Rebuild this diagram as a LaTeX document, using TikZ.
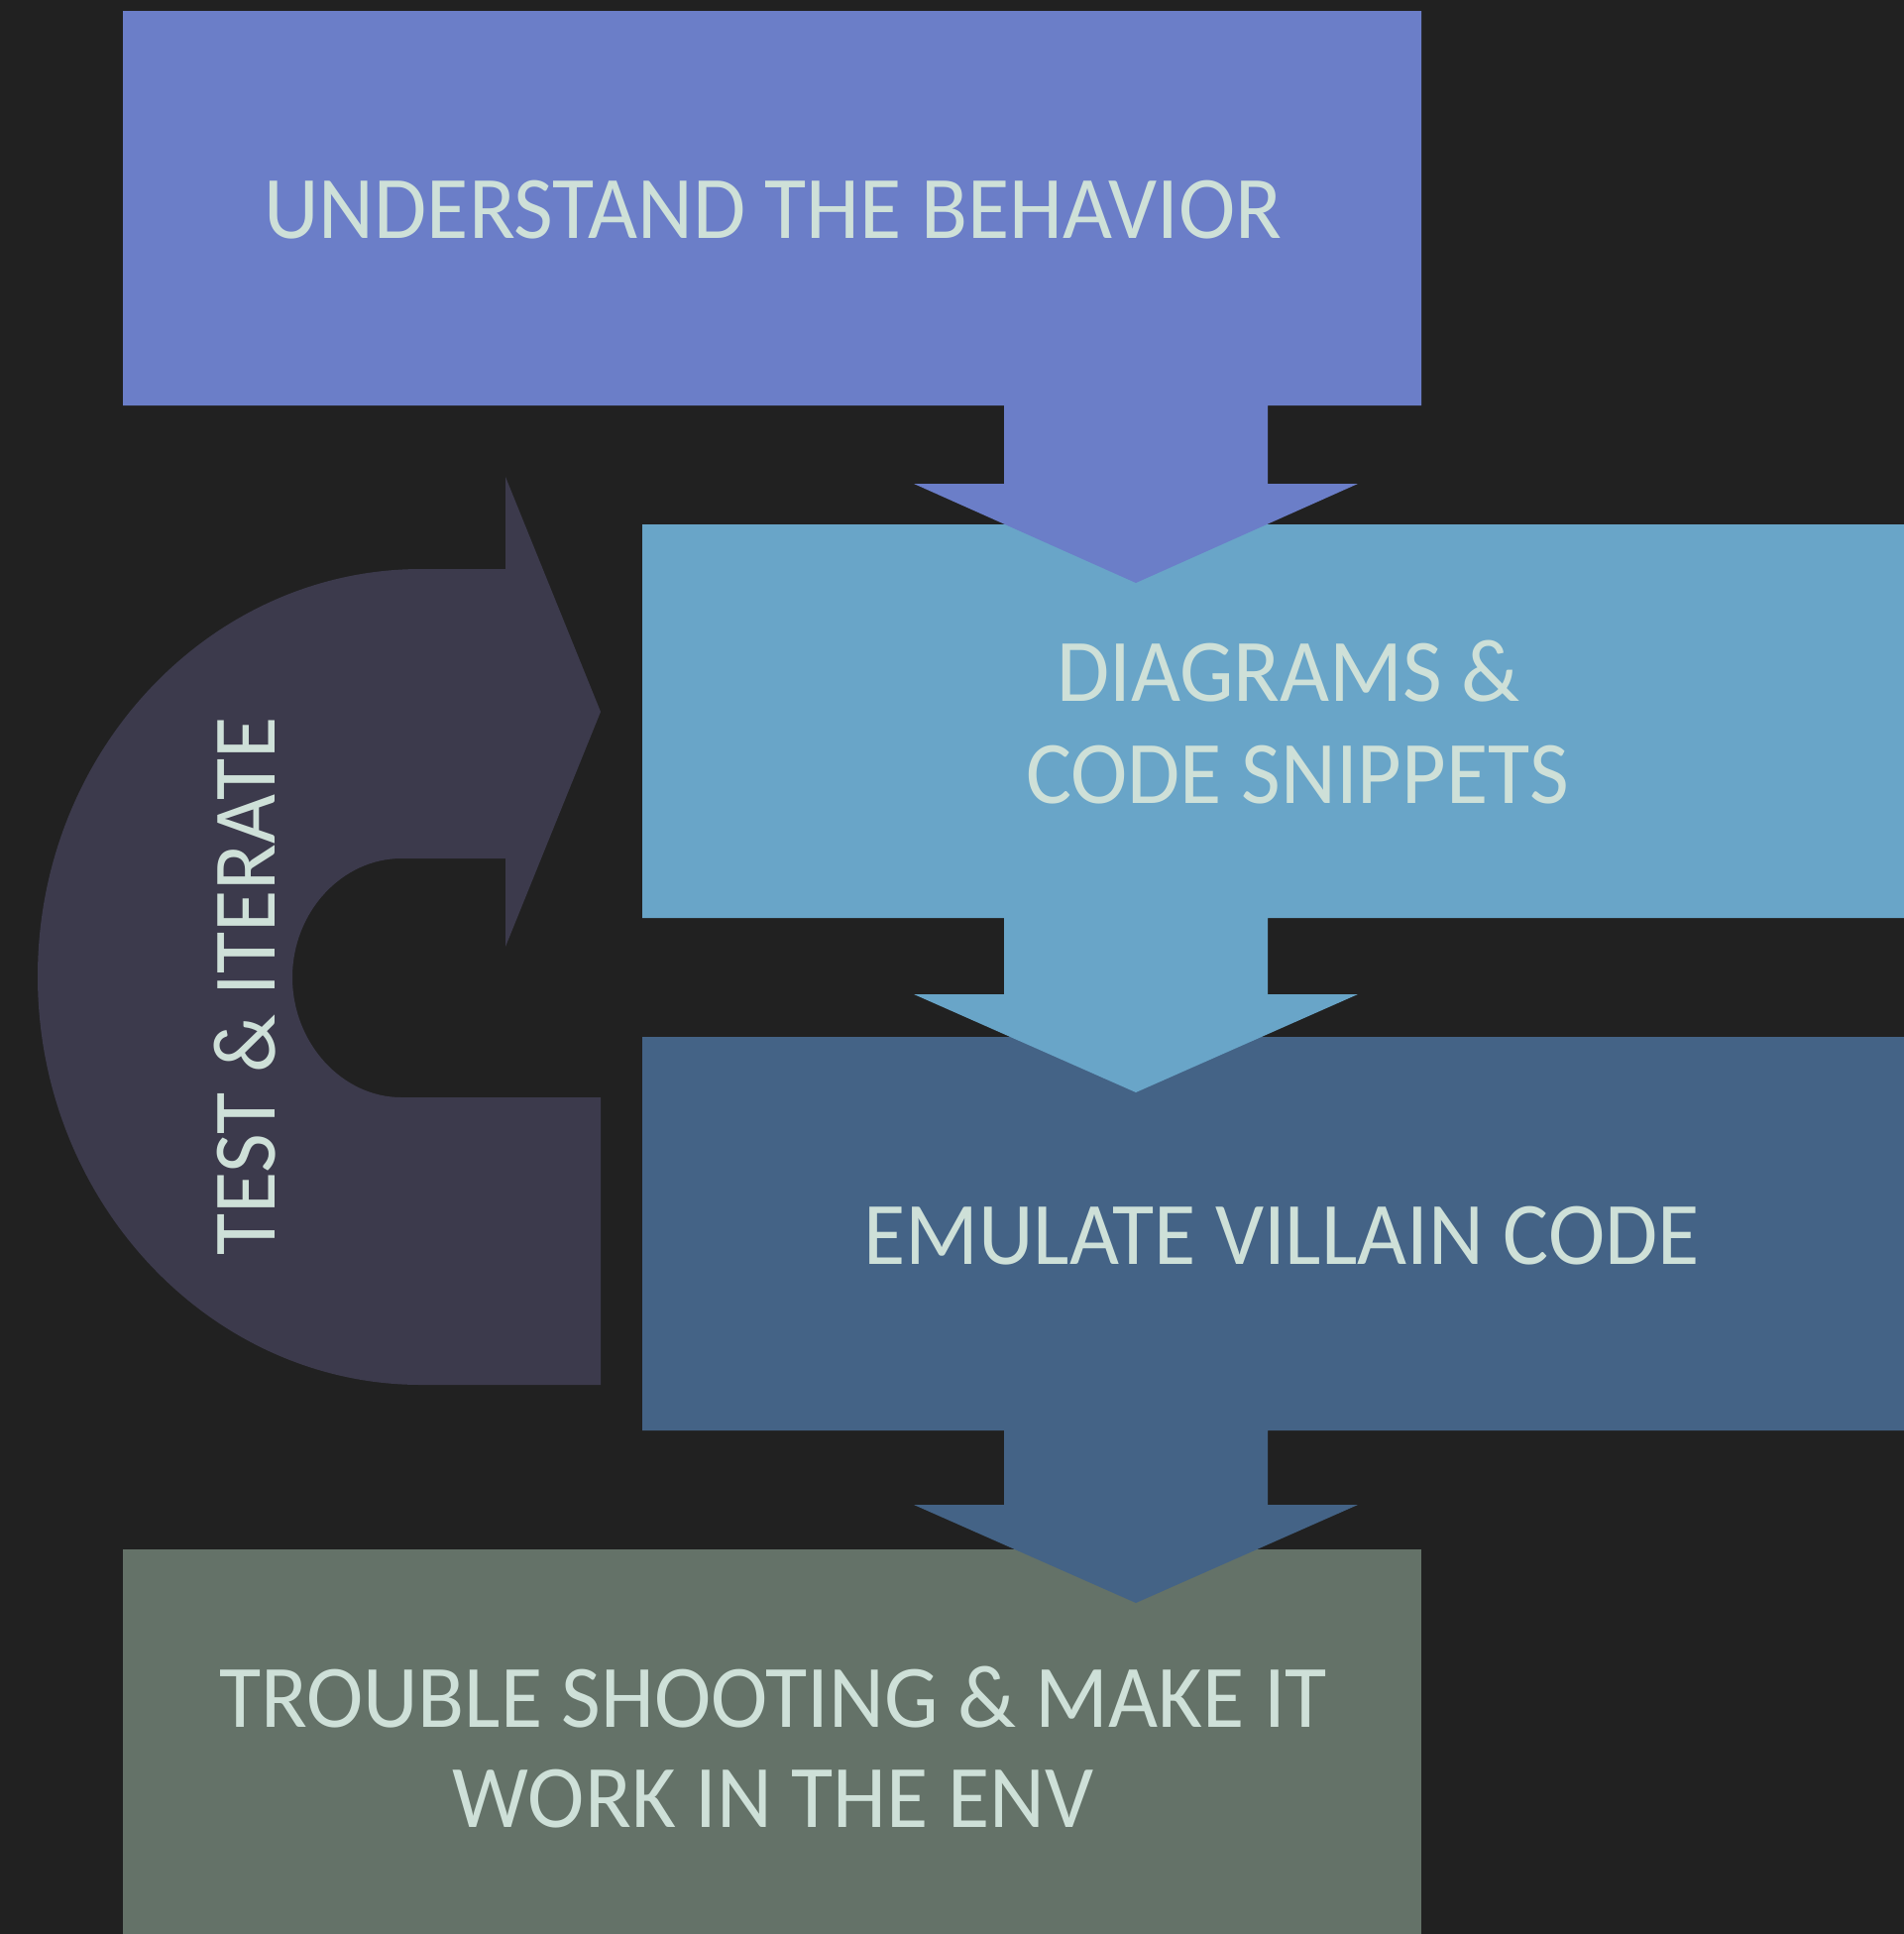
\documentclass[tikz,border=0pt]{standalone}
\usepackage{fontspec}
\setmainfont{Carlito}[FakeStretch=0.96]
\definecolor{bgdark}{RGB}{33,33,33}
\definecolor{stepone}{RGB}{107,126,200}
\definecolor{steptwo}{RGB}{105,165,200}
\definecolor{stepthree}{RGB}{68,99,134}
\definecolor{stepfour}{RGB}{100,114,104}
\definecolor{loopcol}{RGB}{60,58,76}
\definecolor{labelcol}{RGB}{206,224,216}
\begin{document}
\begin{tikzpicture}[x=0.5pt,y=-0.5pt,
  steplabel/.style={text=labelcol, font=\fontsize{45}{51.5}\selectfont, inner sep=0pt, anchor=base}]
% canvas
\useasboundingbox (0,0) rectangle (1921,1951);
\fill[bgdark] (0,0) rectangle (1921,1951);

% step 4 (bottom box)
\fill[stepfour] (124,1563) rectangle (1434,1951);

% step 3 with its down arrow
\fill[stepthree] (648,1046) -- (1921,1046) -- (1921,1443) -- (1279,1443) -- (1279,1518)
  -- (1370,1518) -- (1146,1617) -- (922,1518) -- (1013,1518) -- (1013,1443) -- (648,1443) -- cycle;

% step 2 with its down arrow
\fill[steptwo] (648,529) -- (1921,529) -- (1921,926) -- (1279,926) -- (1279,1003)
  -- (1370,1003) -- (1146,1102) -- (922,1003) -- (1013,1003) -- (1013,926) -- (648,926) -- cycle;

% step 1 with its down arrow
\fill[stepone] (124,11) -- (1434,11) -- (1434,409) -- (1279,409) -- (1279,488)
  -- (1370,488) -- (1146,588) -- (922,488) -- (1013,488) -- (1013,409) -- (124,409) -- cycle;

% loop-back arrow
\fill[loopcol] (606,1397) -- (425,1397)
  .. controls (212,1397) and (38,1212) .. (38,985)
  .. controls (38,758) and (212,574) .. (425,574)
  -- (510,574) -- (510,481) -- (606,718) -- (510,955) -- (510,866) -- (405,866)
  .. controls (345,866) and (295,920) .. (295,986)
  .. controls (295,1052) and (345,1107) .. (405,1107)
  -- (606,1107) -- cycle;

% labels
\node[steplabel] (understand) at (780,240) {UNDERSTAND THE BEHAVIOR};
\node[steplabel] (diagrams) at (1300,707) {DIAGRAMS \&};
\node[steplabel] (snippets) at (1309,810) {CODE SNIPPETS};
\node[steplabel] (emulate) at (1293,1275) {EMULATE VILLAIN CODE};
\node[steplabel] (trouble) at (780,1742) {TROUBLE SHOOTING \& MAKE IT};
\node[steplabel] (workenv) at (780,1843) {WORK IN THE ENV};
\node[steplabel, rotate=90] (iterate) at (277,995) {TEST \& ITERATE};
\end{tikzpicture}
\end{document}
